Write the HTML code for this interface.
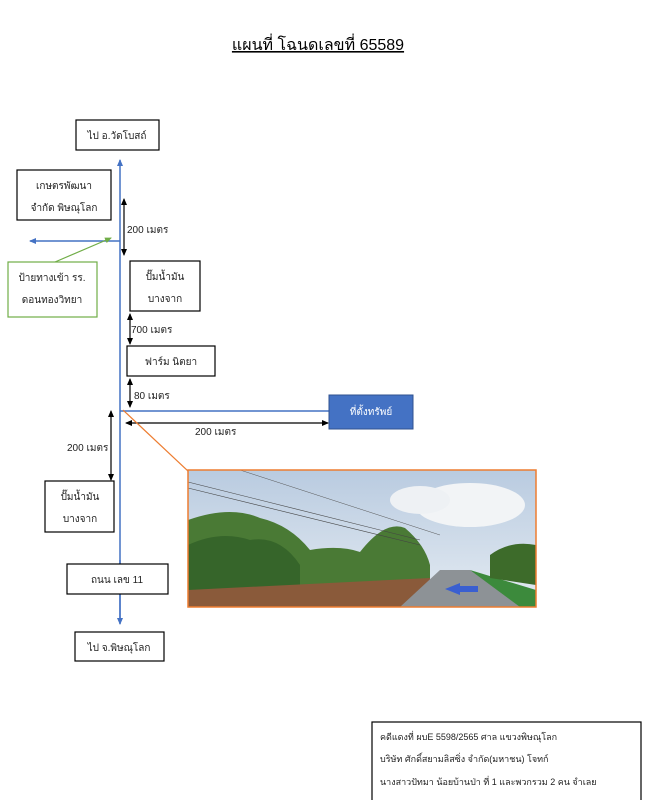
<!DOCTYPE html>
<html><head><meta charset="utf-8"><style>
body{margin:0;background:#fff;}
svg text{font-family:"Liberation Sans","Noto Sans CJK SC",sans-serif;}
</style></head><body>
<svg width="650" height="800" viewBox="0 0 650 800" xmlns="http://www.w3.org/2000/svg">
<defs>
<marker id="ab" markerUnits="userSpaceOnUse" markerWidth="7" markerHeight="6" refX="6" refY="3" orient="auto"><path d="M0,0 L7,3 L0,6 z" fill="#4472C4"/></marker>
<marker id="ak" markerUnits="userSpaceOnUse" markerWidth="7" markerHeight="6" refX="6" refY="3" orient="auto"><path d="M0,0 L7,3 L0,6 z" fill="#000"/></marker>
<marker id="ak2" markerUnits="userSpaceOnUse" markerWidth="7" markerHeight="6" refX="1" refY="3" orient="auto"><path d="M7,0 L0,3 L7,6 z" fill="#000"/></marker>
<marker id="ag" markerUnits="userSpaceOnUse" markerWidth="7" markerHeight="6" refX="6" refY="3" orient="auto"><path d="M0,0 L7,3 L0,6 z" fill="#70AD47"/></marker>
<linearGradient id="sky" x1="0" y1="0" x2="0" y2="1"><stop offset="0" stop-color="#b9cbe0"/><stop offset="1" stop-color="#e4ebf2"/></linearGradient>
</defs>
<text x="318" y="50" font-size="16" text-anchor="middle" text-decoration="underline">แผนที่ โฉนดเลขที่ 65589</text>

<line x1="120" y1="620" x2="120" y2="160" stroke="#4472C4" stroke-width="1.5" marker-end="url(#ab)"/>
<line x1="120" y1="560" x2="120" y2="624" stroke="#4472C4" stroke-width="1.5" marker-end="url(#ab)"/>
<line x1="120" y1="241" x2="30" y2="241" stroke="#4472C4" stroke-width="1.5" marker-end="url(#ab)"/>
<line x1="120" y1="411" x2="329" y2="411" stroke="#4472C4" stroke-width="1.5"/>

<g fill="#fff" stroke="#000" stroke-width="1.2">
<rect x="76" y="120" width="83" height="30"/>
<rect x="17" y="170" width="94" height="50"/>
<rect x="130" y="261" width="70" height="50"/>
<rect x="127" y="346" width="88" height="30"/>
<rect x="45" y="481" width="69" height="51"/>
<rect x="67" y="564" width="101" height="30"/>
<rect x="75" y="632" width="89" height="29"/>
<rect x="372" y="722" width="269" height="80"/>
</g>
<rect x="8" y="262" width="89" height="55" fill="#fff" stroke="#70AD47" stroke-width="1.2"/>
<rect x="329" y="395" width="84" height="34" fill="#4472C4" stroke="#2F528F"/>

<g font-size="10" text-anchor="middle" fill="#222">
<text x="117" y="139">ไป อ.วัดโบสถ์</text>
<text x="64" y="189">เกษตรพัฒนา</text>
<text x="64" y="211">จำกัด พิษณุโลก</text>
<text x="52" y="281">ป้ายทางเข้า รร.</text>
<text x="52" y="303">ดอนทองวิทยา</text>
<text x="165" y="280">ปั๊มน้ำมัน</text>
<text x="165" y="302">บางจาก</text>
<text x="171" y="365">ฟาร์ม นิตยา</text>
<text x="371" y="415" fill="#fff">ที่ตั้งทรัพย์</text>
<text x="80" y="500">ปั๊มน้ำมัน</text>
<text x="80" y="522">บางจาก</text>
<text x="117" y="583">ถนน เลข 11</text>
<text x="119" y="651">ไป จ.พิษณุโลก</text>
</g>

<g stroke="#000" stroke-width="1.2">
<line x1="124" y1="199" x2="124" y2="255" marker-start="url(#ak2)" marker-end="url(#ak)"/>
<line x1="130" y1="314" x2="130" y2="344" marker-start="url(#ak2)" marker-end="url(#ak)"/>
<line x1="130" y1="379" x2="130" y2="407" marker-start="url(#ak2)" marker-end="url(#ak)"/>
<line x1="126" y1="423" x2="328" y2="423" marker-start="url(#ak2)" marker-end="url(#ak)"/>
<line x1="111" y1="411" x2="111" y2="480" marker-start="url(#ak2)" marker-end="url(#ak)"/>
</g>
<g font-size="10" fill="#222">
<text x="127" y="233">200 เมตร</text>
<text x="131" y="333">700 เมตร</text>
<text x="134" y="399">80 เมตร</text>
<text x="195" y="435">200 เมตร</text>
<text x="67" y="451">200 เมตร</text>
</g>

<line x1="55" y1="262" x2="111" y2="238" stroke="#70AD47" stroke-width="1.2" marker-end="url(#ag)"/>
<line x1="188" y1="471" x2="123" y2="410" stroke="#ED7D31" stroke-width="1.2"/>

<g>
<rect x="188" y="470" width="348" height="137" fill="url(#sky)"/>
<ellipse cx="470" cy="505" rx="55" ry="22" fill="#f2f4f6"/>
<ellipse cx="420" cy="500" rx="30" ry="14" fill="#eef1f4"/>
<path d="M188,520 Q230,505 260,518 Q290,525 310,550 Q340,545 360,552 Q385,520 405,528 Q425,545 430,565 L430,607 L188,607z" fill="#4a7a35"/>
<path d="M188,545 Q220,530 250,540 Q280,535 300,565 L300,607 L188,607z" fill="#36652a"/>
<path d="M188,590 L430,578 L430,607 L188,607z" fill="#8a5a3a"/>
<path d="M400,607 L440,570 L470,570 L536,607z" fill="#8d9296"/>
<path d="M470,570 L536,590 L536,607 L520,607z" fill="#3c8a3c"/>
<path d="M490,555 Q510,540 536,545 L536,585 L490,578z" fill="#3d6b2a"/>
<path d="M460,583 L445,589 L460,595z M460,586 L478,586 L478,592 L460,592z" fill="#3a5fd0"/>
<line x1="188" y1="482" x2="420" y2="540" stroke="#444" stroke-width="0.6"/>
<line x1="188" y1="488" x2="420" y2="545" stroke="#444" stroke-width="0.6"/>
<line x1="240" y1="470" x2="440" y2="535" stroke="#555" stroke-width="0.5"/>
<rect x="188" y="470" width="348" height="137" fill="none" stroke="#ED7D31" stroke-width="1.5"/>
</g>

<g font-size="9" fill="#222">
<text x="380" y="740">คดีแดงที่ ผบE 5598/2565   ศาล แขวงพิษณุโลก</text>
<text x="380" y="762">บริษัท ศักดิ์สยามลิสซิ่ง จำกัด(มหาชน)  โจทก์</text>
<text x="380" y="785">นางสาวปัทมา น้อยบ้านป่า ที่ 1  และพวกรวม 2  คน จำเลย</text>
</g>
</svg>
</body></html>
